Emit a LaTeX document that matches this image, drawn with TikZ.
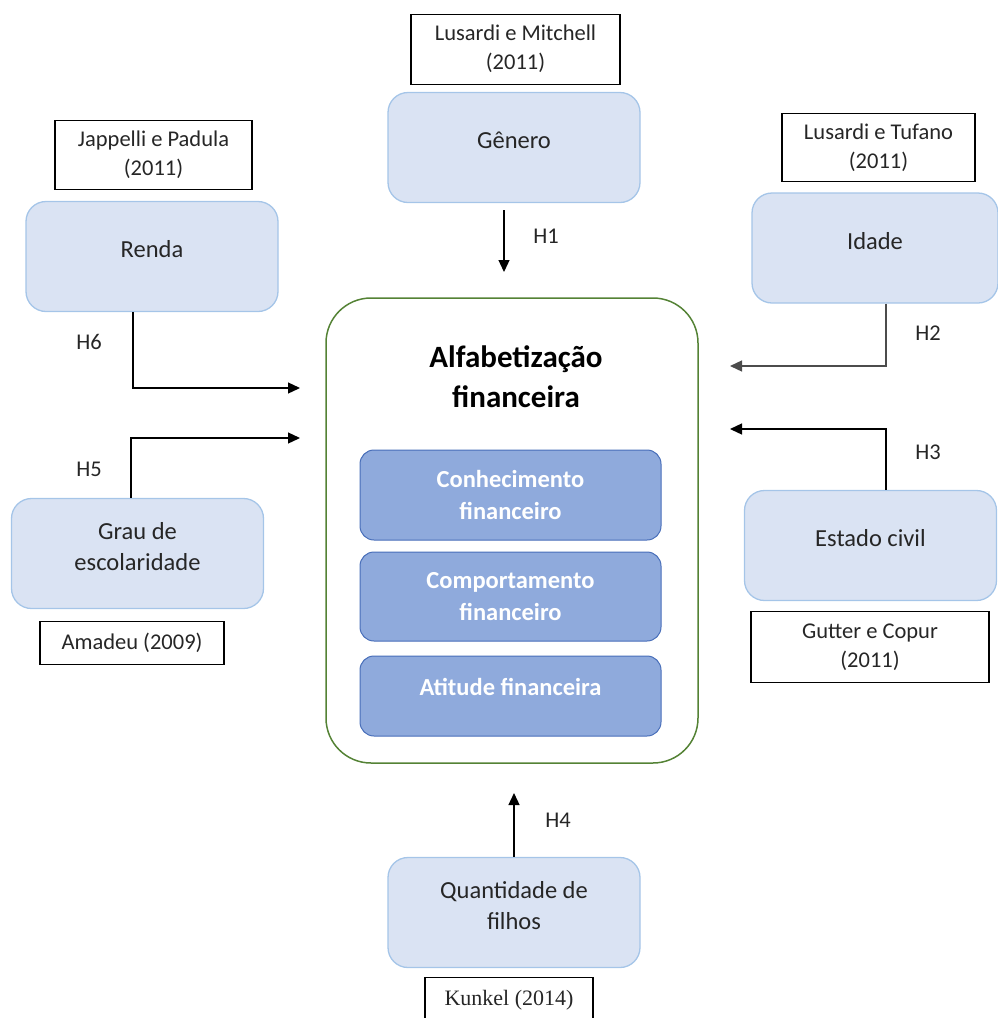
\documentclass[tikz,border=0pt]{standalone}
\usepackage{fontspec}
\setmainfont{Carlito}
\newfontfamily\timesref{Liberation Serif}
\usetikzlibrary{arrows.meta, positioning}

\definecolor{factorFill}{RGB}{218,227,243}
\definecolor{factorEdge}{RGB}{165,197,232}
\definecolor{dimFill}{RGB}{143,170,220}
\definecolor{dimEdge}{RGB}{72,110,185}
\definecolor{mainEdge}{RGB}{84,130,53}
\definecolor{textGray}{RGB}{38,38,38}

\begin{document}
\begin{tikzpicture}[
        x=1pt, y=-1pt,
        factor/.style={
          rectangle,
          draw=factorEdge,
          fill=factorFill,
          line width=1.3pt,
          rounded corners=20pt,
          minimum width=252pt,
          minimum height=110pt,
          inner sep=0pt
        },
        factorText/.style={
          yshift=7pt,
          align=center,
          text=textGray,
          font=\fontsize{24.5}{31}\selectfont
        },
        refBox/.style={
          rectangle,
          draw,
          line width=1.3pt,
          align=center,
          inner sep=0pt,
          text=textGray,
          font=\fontsize{22.5}{29}\selectfont
        },
        dimension/.style={
          rectangle,
          draw=dimEdge,
          fill=dimFill,
          line width=1pt,
          rounded corners=14pt,
          minimum width=301pt,
          align=center,
          inner sep=0pt,
          text=white,
          font=\bfseries\fontsize{24.5}{32}\selectfont
        },
        hyp/.style={
          text=textGray,
          font=\fontsize{22.5}{27}\selectfont
        },
        line/.style={-{Triangle[length=12pt, width=11pt]}, line width=1.3pt}
    ]
    \useasboundingbox (0,0) rectangle (998,1018);

    % Central construct
    \node[draw=mainEdge, line width=1.5pt, rounded corners=45pt,
          minimum width=372pt, minimum height=465pt] (alfab) at (512,530.5) {};
    \node[align=center, font=\bfseries\fontsize{31}{40}\selectfont] (alfabTitle) at (516,377)
        {Alfabetização\\financeira};
    \node[dimension, minimum height=90pt] (conhec) at (510.5,495) {Conhecimento\\financeiro};
    \node[dimension, minimum height=89pt] (comport) at (510.5,596.5) {Comportamento\\financeiro};
    \node[dimension, minimum height=80pt,
          label={[name=atitudeText, dimension, draw=none, fill=none, minimum width=0pt, yshift=9pt]center:Atitude financeira}]
        (atitude) at (510.5,696) {};

    % Define the nodes
    \node[factor, label={[name=generoText, factorText]center:Gênero}] (genero) at (514,147.5) {};
    \node[factor, label={[name=rendaText, factorText]center:Renda}] (renda) at (152,256.5) {};
    \node[factor, minimum width=246pt, label={[name=idadeText, factorText]center:Idade}] (idade) at (875,248) {};
    \node[factor, label={[name=estadoText, factorText]center:Estado civil}] (estado) at (870.5,545.5) {};
    \node[factor, label={[name=grauText, factorText]center:Grau de\\escolaridade}] (grau) at (137.5,553.5) {};
    \node[factor, label={[name=quantText, factorText]center:Quantidade de\\filhos}] (quant) at (514,912.5) {};

    % References
    \node[refBox, minimum width=209pt, minimum height=70pt, above=7pt of genero, xshift=1.5pt] (refMitchell)
        {Lusardi e Mitchell\\(2011)};
    \node[refBox, minimum width=197pt, minimum height=69pt, above=11pt of renda, xshift=1.5pt] (refJappelli)
        {Jappelli e Padula\\(2011)};
    \node[refBox, minimum width=193pt, minimum height=68pt, above=10pt of idade, xshift=3.5pt] (refTufano)
        {Lusardi e Tufano\\(2011)};
    \node[refBox, minimum width=238pt, minimum height=71pt, below=10pt of estado, xshift=-0.5pt] (refGutter)
        {Gutter e Copur\\(2011)};
    \node[refBox, minimum width=184pt, minimum height=43pt, below=12pt of grau, xshift=-5.5pt] (refAmadeu)
        {Amadeu (2009)};
    \node[refBox, minimum width=168pt, minimum height=44pt, below=9pt of quant, xshift=-5pt,
          font=\timesref\fontsize{22}{26}\selectfont] (refKunkel)
        {Kunkel (2014)};

    % Free ends of the connectors
    \coordinate (h1End) at (504,272);
    \coordinate (h2End) at (730,366);
    \coordinate (h3End) at (730,429);
    \coordinate (h4End) at (514,793);
    \coordinate (h5End) at (300,438);
    \coordinate (h6End) at (300,388);

    % Connect the nodes
    \draw[line] ([xshift=-10pt, yshift=-7pt]genero.south) -- (h1End);
    \draw[line, draw=black!70] ([xshift=11pt]idade.south) |- (h2End);
    \draw[line] ([xshift=15.5pt]estado.north) |- (h3End);
    \draw[line] (quant.north) -- (h4End);
    \draw[line] ([xshift=-6.5pt]grau.north) |- (h5End);
    \draw[line] ([xshift=-19pt]renda.south) |- (h6End);

    % Hypothesis labels
    \node[hyp] (h1) at (546,236) {H1};
    \node[hyp] (h2) at (928,333) {H2};
    \node[hyp] (h3) at (928,452) {H3};
    \node[hyp] (h4) at (558,820) {H4};
    \node[hyp] (h5) at (89,469) {H5};
    \node[hyp] (h6) at (89,342) {H6};

\end{tikzpicture}
\end{document}
